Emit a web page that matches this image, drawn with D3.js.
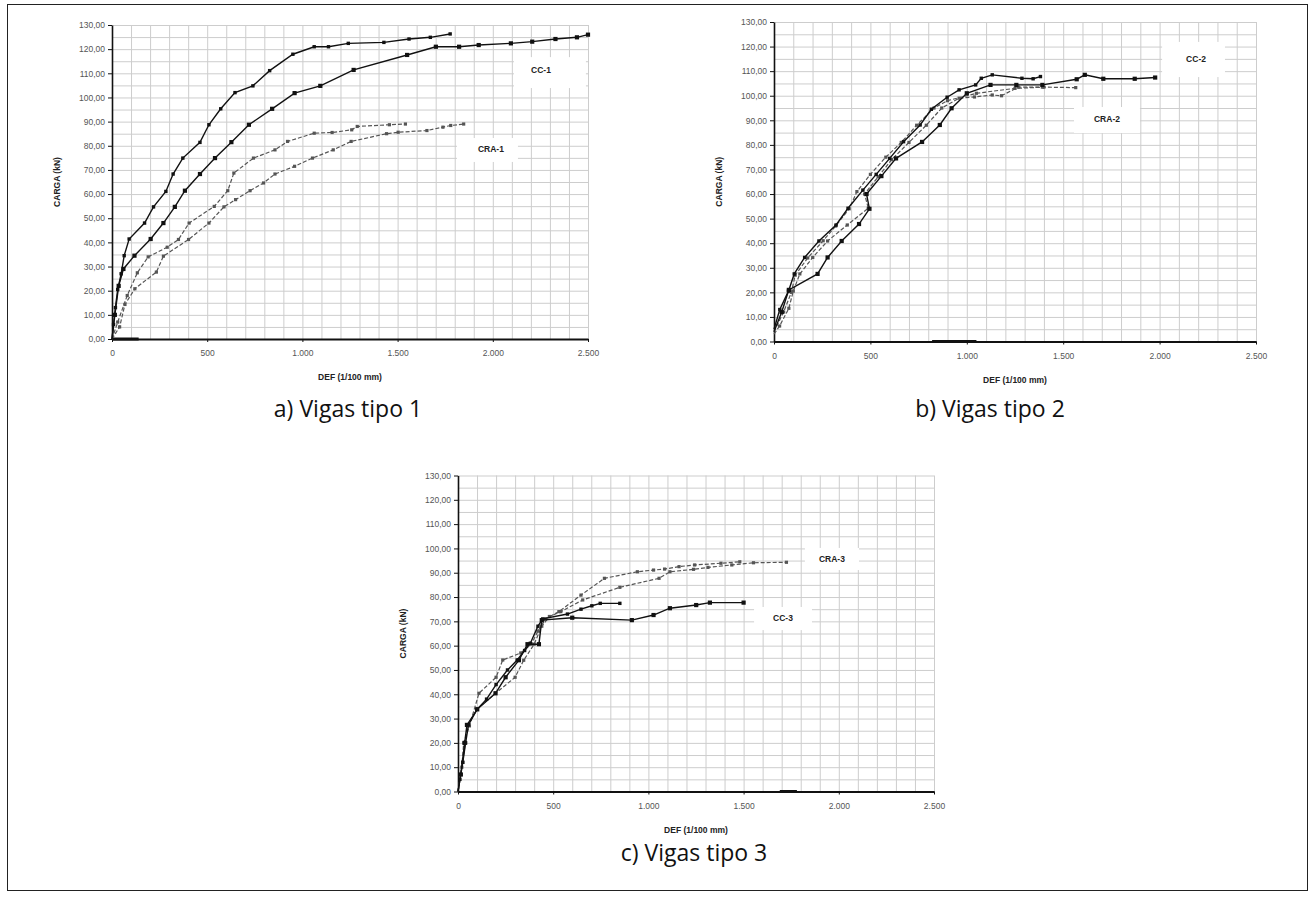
<!DOCTYPE html>
<html>
<head>
<meta charset="utf-8">
<title>Vigas tipo 1, 2 e 3 - CARGA x DEF</title>
<script src="https://d3js.org/d3.v7.min.js"></script>
<style>
body { margin: 0; background: #fff; }
svg { display: block; }
.axis text { font-family: "Liberation Sans", Arial, sans-serif; font-size: 8.5px; fill: #555; }
.axis path, .axis line { stroke: #111; }
.axis-title, .series-label { font-family: "Liberation Sans", Arial, sans-serif; font-size: 8.5px; font-weight: bold; fill: #222; }
.caption { font-family: "Open Sans", "Noto Sans", sans-serif; font-size: 23px; fill: #111; }
.grid line { stroke: #cdcdcd; }
.grid path { display: none; }
</style>
</head>
<body>
<div id="chart"></div>
<script>
var width = 1315, height = 904;

// ticks shared by the three charts
var xTicks = [0, 500, 1000, 1500, 2000, 2500];
var xTickLabels = ["0", "500", "1.000", "1.500", "2.000", "2.500"];
var yTicks = [0, 10, 20, 30, 40, 50, 60, 70, 80, 90, 100, 110, 120, 130];
var yTickLabels = ["0,00", "10,00", "20,00", "30,00", "40,00", "50,00", "60,00",
  "70,00", "80,00", "90,00", "100,00", "110,00", "120,00", "130,00"];
var xGrid = d3.range(0, 2501, 100);
var yGrid = d3.range(0, 131, 5);

// a) Vigas tipo 1  [DEF (1/100 mm), CARGA (kN)]
var cc1A = [[0,0],[8,6],[18,13],[30,20.5],[48,27],[64,34.5],[90,41.4],[171,48],[218,54.7],[283,61.1],
  [321,68.3],[372,74.9],[462,81.4],[509,88.7],[571,95.3],[646,102],[740,104.8],[828,111.1],[950,117.9],
  [1062,121],[1137,121],[1241,122.4],[1428,122.8],[1560,124.2],[1672,124.9],[1776,126.3]];
var cc1B = [[0,0],[15,10],[35,22],[60,29],[118,34.5],[203,41.4],[270,48],[330,54.7],[383,61.4],[462,68.3],
  [541,74.9],[627,81.5],[719,88.7],[841,95.3],[959,101.8],[1094,104.8],[1269,111.4],[1550,117.6],
  [1701,121],[1823,121],[1926,121.7],[2095,122.4],[2207,123.1],[2329,124.2],[2442,124.9],[2500,126]];
var cra1A = [[0,0],[30,7],[80,18],[133,27.4],[190,34],[290,38],[349,41.2],[405,48],[537,54.9],[608,61.4],
  [640,68.7],[743,74.9],[856,78.3],[922,81.8],[1062,85.2],[1156,85.5],[1259,86.6],[1288,88],[1457,88.7],[1541,89]];
var cra1B = [[0,0],[40,5],[68,14.3],[120,20.8],[233,27.7],[270,34.3],[402,41.2],[509,48],[588,54.7],[649,57.7],
  [725,61.4],[796,64.6],[856,68.3],[959,71.5],[1053,74.9],[1162,78.3],[1256,81.8],[1442,85],[1503,85.6],
  [1654,86.3],[1738,87.7],[1779,88.4],[1847,89]];
var base1 = [[0,0],[140,0]];

// b) Vigas tipo 2
var cc2A = [[0,5],[30,13],[75,20.5],[105,27.5],[159,34.2],[233,40.9],[322,47.4],[384,54.2],[461,61.6],[530,68],
  [600,74.5],[672,81.3],[758,88.1],[816,94.5],[898,99.4],[960,102.4],[1046,104.4],[1075,107.1],[1132,108.5],
  [1286,107.1],[1344,106.9],[1382,107.8]];
var cc2B = [[0,4],[40,12],[77,21],[226,27.5],[278,34.2],[351,40.9],[441,47.8],[495,54],[480,60],[557,67.3],
  [633,74.5],[768,81.2],[860,88.1],[921,94.9],[1000,101],[1123,104.4],[1257,104.4],[1392,104.4],[1570,106.7],
  [1612,108.5],[1708,106.9],[1871,106.9],[1977,107.4]];
var cra2A = [[0,4],[50,12],[90,20],[110,27],[175,34],[255,41],[320,47],[390,54],[430,61],[500,68],[580,75],
  [660,81],[740,88],[830,95],[900,98],[1050,101],[1250,103],[1400,103.5],[1565,103.3]];
var cra2B = [[0,3],[29,6.3],[77,13.5],[100,20.5],[134,27.5],[201,34.2],[278,40.9],[380,47.4],[489,54.2],[470,60],
  [540,67],[610,74],[700,81],[790,88],[870,95],[960,99],[1040,99.5],[1132,100.3],[1180,100],[1267,103.5],[1392,103.5]];
var base2 = [[820,0],[1050,0]];

// c) Vigas tipo 3
var cc3A = [[0,0],[10,5],[25,12],[40,20],[55,27.4],[100,33.8],[150,38],[200,44],[260,50],[311,54.1],[350,58],
  [380,61],[420,68],[445,71],[575,73],[646,75],[703,76.4],[747,77.4],[850,77.4]];
var cc3B = [[0,0],[15,7],[35,20],[47,27.4],[101,33.8],[197,40.4],[250,47],[320,54],[365,60.6],[425,60.6],
  [440,70.5],[600,71.5],[913,70.5],[1027,72.6],[1113,75.4],[1251,76.7],[1323,77.7],[1500,77.7]];
var cra3A = [[0,0],[20,10],[30,20],[60,27],[110,40.4],[200,47],[235,54.1],[330,57],[385,60.6],[420,66],[460,71],
  [530,74],[646,80.8],[769,87.7],[942,90.4],[1027,91.1],[1085,91.5],[1161,92.5],[1243,93.2],[1381,93.9],[1480,94.5]];
var cra3B = [[0,0],[25,12],[50,27],[100,34],[197,40.4],[300,47],[345,54],[400,60.6],[440,68],[480,72],[540,74],
  [655,78.8],[850,84],[1056,87.7],[1113,90.4],[1237,91.4],[1313,92.2],[1438,93.2],[1552,94.1],[1725,94.3]];
var base3 = [[1690,0],[1780,0]];

// series labels: [text, x, y, box x0, box x1, box y0, box y1] in data units
var labels1 = [["CC-1", 2253, 111.4, 2111, 2489, 116.7, 103.9], ["CRA-1", 1990, 78.7, 1812, 2132, 83.2, 73.3]];
var labels2 = [["CC-2", 2189, 115, 2013, 2339, 121.9, 107.6], ["CRA-2", 1727, 90.5, 1556, 1898, 95.4, 84.8]];
var labels3 = [["CRA-3", 1964, 95.6, 1822, 2106, 100.2, 91.1], ["CC-3", 1707, 71.4, 1555, 1859, 75.9, 66.4]];

var panels = [
  { caption: "a) Vigas tipo 1", left: 112, right: 588, top: 25, bottom: 339, capX: 348, capY: 409,
    series: [cra1B, cra1A, cc1B, cc1A], dashed: [true, true, false, false], labels: labels1, base: base1 },
  { caption: "b) Vigas tipo 2", left: 774, right: 1256, top: 22, bottom: 341.5, capX: 990, capY: 409,
    series: [cra2B, cra2A, cc2B, cc2A], dashed: [true, true, false, false], labels: labels2, base: base2 },
  { caption: "c) Vigas tipo 3", left: 458, right: 934, top: 475.5, bottom: 791.5, capX: 694, capY: 853,
    series: [cra3B, cra3A, cc3B, cc3A], dashed: [true, true, false, false], labels: labels3, base: base3 }
];

var svg = d3.select("#chart").append("svg").attr("width", width).attr("height", height);

svg.append("rect").attr("x", 7.5).attr("y", 4.5).attr("width", 1300).attr("height", 886)
  .attr("fill", "none").attr("stroke", "#222").attr("stroke-width", 1);

panels.forEach(function (p) {
  var x = d3.scaleLinear().domain([0, 2500]).range([p.left, p.right]);
  var y = d3.scaleLinear().domain([0, 130]).range([p.bottom, p.top]);
  var g = svg.append("g");

  // grid
  g.append("g").attr("class", "grid").attr("transform", "translate(0," + p.bottom + ")")
    .call(d3.axisBottom(x).tickValues(xGrid).tickSize(-(p.bottom - p.top)).tickFormat(""));
  g.append("g").attr("class", "grid").attr("transform", "translate(" + p.left + ",0)")
    .call(d3.axisLeft(y).tickValues(yGrid).tickSize(-(p.right - p.left)).tickFormat(""));

  // white label boxes over the grid
  p.labels.forEach(function (l) {
    g.append("rect").attr("x", x(l[3])).attr("y", y(l[5]))
      .attr("width", x(l[4]) - x(l[3])).attr("height", y(l[6]) - y(l[5])).attr("fill", "#fff");
  });

  // axes
  var ya = g.append("g").attr("class", "axis").attr("transform", "translate(" + p.left + ",0)")
    .call(d3.axisLeft(y).tickValues(yTicks).tickFormat(function (d, i) { return yTickLabels[i]; })
      .tickSize(4).tickSizeOuter(0).tickPadding(3));
  var xa = g.append("g").attr("class", "axis").attr("transform", "translate(0," + p.bottom + ")")
    .call(d3.axisBottom(x).tickValues(xTicks).tickFormat(function (d, i) { return xTickLabels[i]; })
      .tickSize(3).tickSizeOuter(0).tickPadding(8));
  ya.select(".domain").attr("stroke-width", 1.6);
  xa.select(".domain").attr("stroke-width", 1.8);

  g.append("text").attr("class", "axis-title").attr("text-anchor", "middle")
    .attr("transform", "translate(" + (p.left - 52) + "," + ((p.top + p.bottom) / 2) + ") rotate(-90)")
    .text("CARGA (kN)");
  g.append("text").attr("class", "axis-title").attr("text-anchor", "middle")
    .attr("x", (p.left + p.right) / 2).attr("y", p.bottom + 41).text("DEF (1/100 mm)");

  // curves
  var line = d3.line().x(function (d) { return x(d[0]); }).y(function (d) { return y(d[1]); });
  g.append("path").datum(p.base).attr("d", line).attr("fill", "none")
    .attr("stroke", "#111").attr("stroke-width", 3);
  p.series.forEach(function (s, i) {
    var dashed = p.dashed[i];
    g.append("path").datum(s).attr("d", line).attr("fill", "none")
      .attr("stroke", dashed ? "#555" : "#111").attr("stroke-width", dashed ? 1.2 : 1.4)
      .attr("stroke-dasharray", dashed ? "4,2" : null);
    var size = dashed ? 3.2 : (i % 2 === 0 ? 4.2 : 3.4);
    g.selectAll(null).data(s.slice(1)).enter().append("rect")
      .attr("x", function (d) { return x(d[0]) - size / 2; })
      .attr("y", function (d) { return y(d[1]) - size / 2; })
      .attr("width", size).attr("height", size)
      .attr("fill", dashed ? "#555" : "#111");
  });

  p.labels.forEach(function (l) {
    g.append("text").attr("class", "series-label").attr("text-anchor", "middle")
      .attr("x", x(l[1])).attr("y", y(l[2])).attr("dy", "0.35em").text(l[0]);
  });

  svg.append("text").attr("class", "caption").attr("text-anchor", "middle")
    .attr("x", p.capX).attr("y", p.capY).attr("dy", "0.35em").text(p.caption);
});
</script>
</body>
</html>
